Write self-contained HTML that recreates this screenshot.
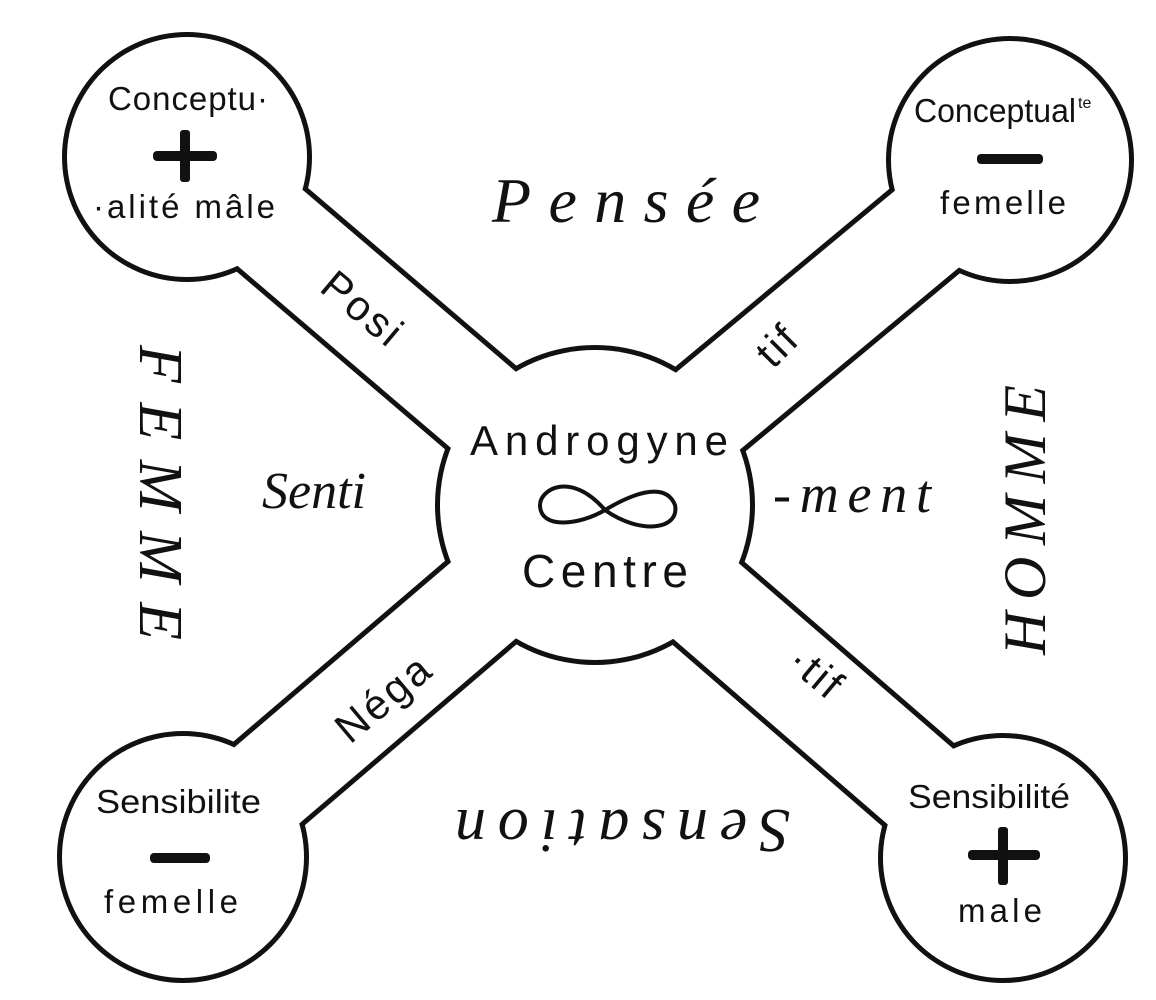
<!DOCTYPE html>
<html><head><meta charset="utf-8"><style>
html,body{margin:0;padding:0;background:#fff;}
svg{display:block;}
text{fill:#111;}
.c{font-family:"Liberation Sans",sans-serif;}
.i{font-family:"Liberation Serif",serif;font-style:italic;}
</style></head><body>
<svg width="1156" height="1000" viewBox="0 0 1156 1000" xmlns="http://www.w3.org/2000/svg">
<g stroke="#111" stroke-width="110" stroke-linecap="butt">
<line x1="187" y1="157" x2="595" y2="505"/>
<line x1="1010" y1="160" x2="595" y2="505"/>
<line x1="183" y1="857" x2="595" y2="505"/>
<line x1="1003" y1="858" x2="595" y2="505"/>
</g>
<g fill="#111">
<circle cx="595" cy="505" r="160"/>
<circle cx="187" cy="157" r="125"/>
<circle cx="1010" cy="160" r="124"/>
<circle cx="183" cy="857" r="126"/>
<circle cx="1003" cy="858" r="125"/>
</g>
<g stroke="#fff" stroke-width="100">
<line x1="187" y1="157" x2="595" y2="505"/>
<line x1="1010" y1="160" x2="595" y2="505"/>
<line x1="183" y1="857" x2="595" y2="505"/>
<line x1="1003" y1="858" x2="595" y2="505"/>
</g>
<g fill="#fff">
<circle cx="595" cy="505" r="155"/>
<circle cx="187" cy="157" r="120"/>
<circle cx="1010" cy="160" r="119"/>
<circle cx="183" cy="857" r="121"/>
<circle cx="1003" cy="858" r="120"/>
</g>
<g class="c" font-size="33">
<text x="108" y="110" textLength="160" lengthAdjust="spacing">Conceptu·</text>
<text x="93" y="218" textLength="182" lengthAdjust="spacing">·alité mâle</text>
<text x="914" y="122" textLength="162" lengthAdjust="spacingAndGlyphs">Conceptual</text>
<text x="1078" y="108" font-size="16">te</text>
<text x="940" y="214" textLength="126" lengthAdjust="spacing">femelle</text>
<text x="96" y="813" textLength="165" lengthAdjust="spacingAndGlyphs">Sensibilite</text>
<text x="104" y="913" textLength="134" lengthAdjust="spacing">femelle</text>
<text x="908" y="808" textLength="162" lengthAdjust="spacingAndGlyphs">Sensibilité</text>
<text x="958" y="922" textLength="84" lengthAdjust="spacing">male</text>
</g>
<g fill="#111">
<rect x="153" y="151" width="64" height="10" rx="4"/>
<rect x="180" y="130" width="10" height="52" rx="3"/>
<rect x="977" y="154" width="66" height="10" rx="4"/>
<rect x="150" y="853" width="60" height="10" rx="4"/>
<rect x="968" y="850" width="72" height="10" rx="4"/>
<rect x="998" y="827" width="10" height="58" rx="3"/>
</g>
<g class="c">
<text x="470" y="455" font-size="42" textLength="258" lengthAdjust="spacing">Androgyne</text>
<text x="522" y="587" font-size="46" textLength="166" lengthAdjust="spacing">Centre</text>
</g>
<path d="M605,510 C570,470 540,490 540,505 C540,530 580,525 605,510 C630,495 665,480 675,505 C680,530 640,535 605,510 Z" fill="none" stroke="#111" stroke-width="4"/>
<g class="i">
<text x="492" y="222" font-size="64" textLength="268" lengthAdjust="spacing">Pensée</text>
<text x="262" y="508" font-size="52">Senti</text>
<text x="773" y="512" font-size="54" textLength="158" lengthAdjust="spacing">-ment</text>
<text transform="translate(140,345) rotate(90)" font-size="62" textLength="295" lengthAdjust="spacing">FEMME</text>
<text transform="translate(1045,655) rotate(-90)" font-size="60" textLength="270" lengthAdjust="spacing">HOMME</text>
<text transform="translate(790,810) rotate(180)" font-size="62" textLength="335" lengthAdjust="spacing">Sensation</text>
</g>
<g class="c" font-size="42">
<text transform="translate(318,290) rotate(40)" letter-spacing="3">Posi</text>
<text transform="translate(773,370) rotate(-45)" letter-spacing="3">tif</text>
<text transform="translate(350,745) rotate(-40)" letter-spacing="3">Néga</text>
<text transform="translate(785,665) rotate(40)" letter-spacing="3">·tif</text>
</g>
</svg>
</body></html>
